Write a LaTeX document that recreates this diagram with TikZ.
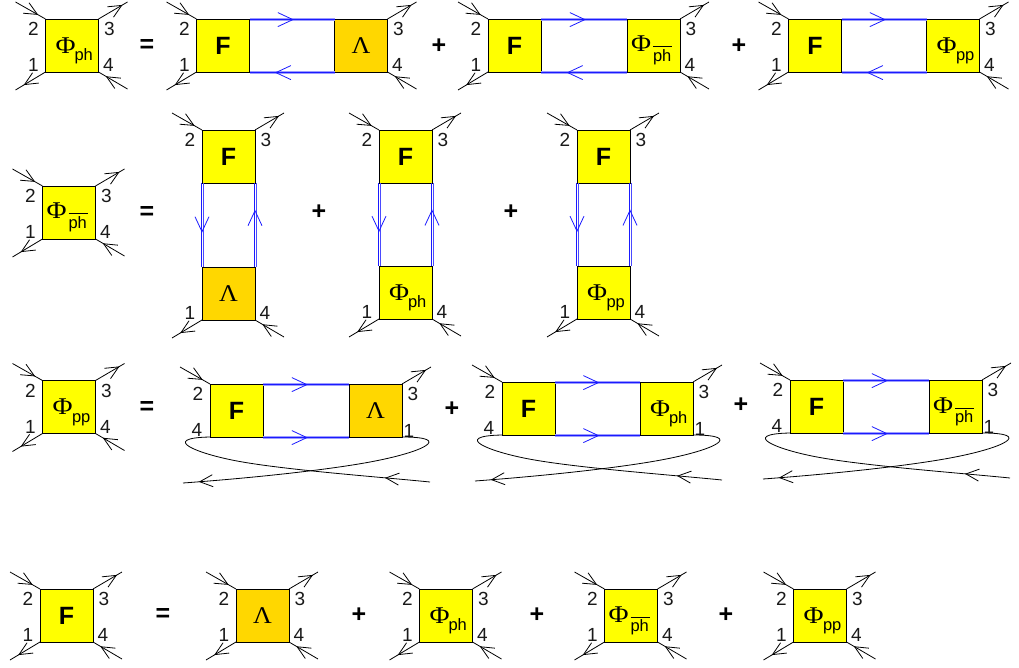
\documentclass[tikz,border=0pt]{standalone}
\usepackage{fontspec}
\setmainfont{Liberation Sans}
\newfontfamily\serf{Liberation Serif}
\usetikzlibrary{decorations.markings,calc}
\definecolor{fy}{HTML}{FFFF00}
\definecolor{fg}{HTML}{FFD700}
\definecolor{bl}{HTML}{1A1AFF}
\definecolor{bll}{HTML}{9C9CFF}
\definecolor{blm}{HTML}{4A4AFF}
\newcommand\fs[1]{\fontsize{#1}{#1}\selectfont}
\newcommand\plc[3]{\makebox[0pt][l]{\hspace*{#1pt}\raisebox{#2pt}[0pt][0pt]{#3}}}
\newcommand\CF{{\fs{25}\bfseries F}}
\newcommand\CL{{\fs{24}\serf\scalebox{1.08}[1]{Λ}}}
\newcommand\CP{{\fs{24}\serf\scalebox{1.14}[1]{Φ}}}
\newcommand\Cph{\plc{-16.5}{-7.8}{\CP}\plc{2.5}{-15}{\fs{16.5}ph}}
\newcommand\Cpp{\plc{-16.5}{-7.8}{\CP}\plc{3}{-15}{\fs{16.5}pp}}
\newcommand\Cpb{\plc{-22.5}{-6.5}{\CP}\plc{-.5}{-16}{\fs{16.5}ph}\plc{-.5}{-1.7}{\rule{19pt}{.7pt}}}
\tikzset{
  x=1pt,y=-1pt,
  sq/.style={draw=black,line width=.9pt,minimum size=53pt,inner sep=0pt,outer sep=0pt,align=center},
  num/.style={font=\fs{19},inner sep=0pt,text=black!90},
  op/.style={font=\fs{25}\bfseries,inner sep=0pt},
  leg/.style={draw=black,line width=.8pt},
  bline/.style={draw=bl,line width=1pt},
  bband/.style={draw=bll,line width=3.6pt},
  bthin/.style={draw=blm,line width=1pt},
  mk/.style n args={2}{decorate,decoration={markings,mark=at position #1 with {\draw[#2,line width=.8pt] (-13pt,6pt)--(0pt,0pt)--(-13pt,-6pt);}}},
  mkb/.style={decorate,decoration={markings,mark=at position #1 with {\draw[bl,line width=.8pt] (-15pt,7pt)--(0pt,0pt)--(-15pt,-7pt);}}}
}
% square node
\newcommand\sq[5]{\node[sq,fill=#4] (#1) at (#2,#3) {#5};}
% corner legs with their numbers
\newcommand\TL[2][2]{\coordinate (#2-tl) at ([shift={(-30,-17)}]#2.north west);
  \node[num] (#2-n2) at ([shift={(-12,10)}]#2.north west) {#1};
  \draw[leg] (#2-tl) -- (#2.north west);
  \path[mk={.73}{black}] (#2-tl) -- (#2.north west);}
\newcommand\TR[2][3]{\coordinate (#2-tr) at ([shift={(29,-17)}]#2.north east);
  \node[num] (#2-n3) at ([shift={(11,10)}]#2.north east) {#1};
  \draw[leg] (#2.north east) -- (#2-tr);
  \path[mk={.8}{black}] (#2.north east) -- (#2-tr);}
\newcommand\BL[2][1]{\coordinate (#2-bl) at ([shift={(-30,18)}]#2.south west);
  \node[num] (#2-n1) at ([shift={(-12,-7)}]#2.south west) {#1};
  \draw[leg] (#2.south west) -- (#2-bl);
  \path[mk={.7}{black}] (#2.south west) -- (#2-bl);}
\newcommand\BR[2][4]{\coordinate (#2-br) at ([shift={(29,17)}]#2.south east);
  \node[num] (#2-n4) at ([shift={(10,-7)}]#2.south east) {#1};
  \draw[leg] (#2-br) -- (#2.south east);
  \path[mk={.72}{black}] (#2-br) -- (#2.south east);}
\newcommand\allL[1]{\TL{#1}\TR{#1}\BL{#1}\BR{#1}}
% blue double propagators
\newcommand\prop[3]{\draw[bband] ([yshift=-.6pt]#1) -- ([yshift=-.6pt]#2);
  \draw[bline] ([yshift=-.6pt]#1) -- ([yshift=-.6pt]#2);
  \path[mkb={#3}] ([yshift=-.6pt]#1) -- ([yshift=-.6pt]#2);}
\newcommand\vprop[3]{\draw[bline] ([xshift=-.3pt]#1) -- ([xshift=-.3pt]#2);
  \draw[bthin] ([xshift=1.6pt]#1) -- ([xshift=1.6pt]#2);
  \path[mkb={#3}] (#1) -- (#2);}
\newcommand\hbub[2]{\TL{#1}\BL{#1}\TR{#2}\BR{#2}
  \prop{#1.north east}{#2.north west}{.51}
  \prop{#2.south west}{#1.south east}{.69}}
\newcommand\vbub[2]{\TL{#1}\TR{#1}\BL{#2}\BR{#2}
  \vprop{#1.south west}{#2.north west}{.58}
  \vprop{#2.north east}{#1.south east}{.67}}
% crossed pair
\newcommand\xbub[2]{\TL{#1}\TR{#2}
  \node[num] (#1-n4) at ([shift={(-13,-7)}]#1.south west) {4};
  \node[num] (#2-n1) at ([shift={(7,-6)}]#2.south east) {1};
  \prop{#1.north east}{#2.north west}{.51}
  \prop{#1.south east}{#2.south west}{.51}
  \coordinate (#1-fr) at ([shift={(220,45)}]#1.south west);
  \coordinate (#1-fl) at ([shift={(-27,46)}]#1.south west);
  \begin{scope}[shift={(#1.south west)}]
  \draw[leg] (#1-fr) .. controls (170,40) and (75,33) .. (27,24) .. controls (-15,16.1) and (-50,1) .. (#1.south west);
  \path[mk={.16}{black}] (#1-fr) .. controls (170,40) and (75,33) .. (27,24) .. controls (-15,16.1) and (-50,1) .. (#1.south west);
  \end{scope}
  \begin{scope}[shift={(#2.south east)}]
  \draw[leg] (#2.south east) .. controls (52,0) and (22,15) .. (-32,25) .. controls (-75,33) and (-150,41) .. (#1-fl);
  \path[mk={.94}{black}] (#2.south east) .. controls (52,0) and (22,15) .. (-32,25) .. controls (-75,33) and (-150,41) .. (#1-fl);
  \end{scope}}
\begin{document}
\begin{tikzpicture}
\useasboundingbox (0,0) rectangle (1019,668);
% row 1
\sq{a1}{72}{45.5}{fy}{\Cph}\allL{a1}
\sq{a2}{223}{45.5}{fy}{\CF}\sq{a3}{361}{45.5}{fg}{\CL}\hbub{a2}{a3}
\sq{a4}{514.5}{45.5}{fy}{\CF}\sq{a5}{653.5}{45.5}{fy}{\Cpb}\hbub{a4}{a5}
\sq{a6}{815}{45.5}{fy}{\CF}\sq{a7}{953}{45.5}{fy}{\Cpp}\hbub{a6}{a7}
\node[op] (e1) at (147,46) {=};
\node[op] (p1) at (439,46) {+};
\node[op] (p2) at (739,46) {+};
% row 2
\sq{b1}{69}{212.5}{fy}{\Cpb}\allL{b1}
\sq{b2}{228.5}{156.5}{fy}{\CF}\sq{b3}{228.5}{293.5}{fg}{\CL}\vbub{b2}{b3}
\sq{b4}{405.5}{156.5}{fy}{\CF}\sq{b5}{405.5}{292.5}{fy}{\Cph}\vbub{b4}{b5}
\sq{b6}{603.5}{156.5}{fy}{\CF}\sq{b7}{603.5}{292.5}{fy}{\Cpp}\vbub{b6}{b7}
\node[op] (e2) at (147,213) {=};
\node[op] (p3) at (319,212) {+};
\node[op] (p4) at (511,212) {+};
% row 3
\sq{c1}{69}{407}{fy}{\Cpp}\allL{c1}
\sq{c2}{236.5}{410.5}{fy}{\CF}\sq{c3}{375.5}{410.5}{fg}{\CL}\xbub{c2}{c3}
\sq{c4}{528.5}{408.5}{fy}{\CF}\sq{c5}{666.5}{408.5}{fy}{\Cph}\xbub{c4}{c5}
\sq{c6}{816.5}{406.5}{fy}{\CF}\sq{c7}{955.5}{406.5}{fy}{\Cpb}\xbub{c6}{c7}
\node[op] (e3) at (147,408) {=};
\node[op] (p5) at (452,409) {+};
\node[op] (p6) at (741,405) {+};
% row 4
\sq{d1}{66.5}{615.5}{fy}{\CF}\allL{d1}
\sq{d2}{262.5}{615.5}{fg}{\CL}\allL{d2}
\sq{d3}{446}{615.5}{fy}{\Cph}\allL{d3}
\sq{d4}{631}{615.5}{fy}{\Cpb}\allL{d4}
\sq{d5}{820}{615.5}{fy}{\Cpp}\allL{d5}
\node[op] (e4) at (163,615) {=};
\node[op] (p7) at (359,615) {+};
\node[op] (p8) at (537,615) {+};
\node[op] (p9) at (726,615) {+};
\end{tikzpicture}
\end{document}
